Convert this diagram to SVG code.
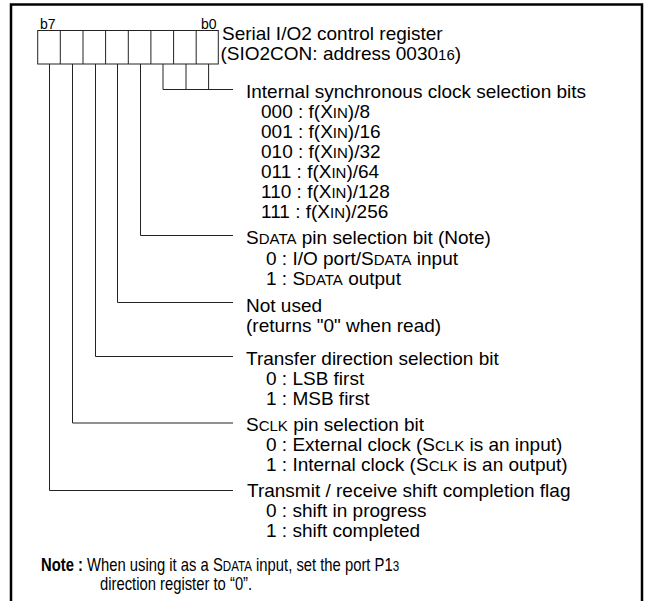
<svg xmlns="http://www.w3.org/2000/svg" width="646" height="601" viewBox="0 0 646 601">
<style>
text{font-family:"Liberation Sans",Arial,sans-serif;font-size:19px;fill:#000}
.sm{font-size:15px}
.bl{font-size:14px}
.b{font-weight:bold}
.nt{font-size:18.5px}
.nts{font-size:14.5px}
.ln{fill:none;stroke:#222;stroke-width:1}
.frame{fill:none;stroke:#000;stroke-width:2.5}
</style>
<rect width="646" height="601" fill="#fff"/>
<path class="frame" d="M11,601 V4.5 H642 V601"/>
<g id="register">
<rect class="ln" x="37.7" y="30.5" width="180.6" height="33.5"/>
<path class="ln" d="M60.3,30.5V64M83,30.5V64M105.6,30.5V64M128.3,30.5V64M150.9,30.5V64M173.6,30.5V64M196.2,30.5V64"/>
<text class="bl" x="40" y="29">b7</text>
<text class="bl" x="201" y="29">b0</text>
<text x="222" y="40">Serial I/O2 control register</text>
<text x="220.5" y="60">(SIO2CON: address 0030<tspan class="sm">16</tspan>)</text>
</g>
<g id="connectors">
<path class="ln" d="M163,64V89.5H233M186,64V89.5M208.6,64V89.5"/>
<path class="ln" d="M140.5,64V235.5H233"/>
<path class="ln" d="M117.5,64V302.5H233"/>
<path class="ln" d="M95.5,64V356.5H233"/>
<path class="ln" d="M72.5,64V423H233"/>
<path class="ln" d="M49.5,64V490.5H233"/>
</g>
<g id="clock-bits">
<text x="246" y="97.5">Internal synchronous clock selection bits</text>
<text x="261" y="118">000 : f(X<tspan class="sm">IN</tspan>)/8</text>
<text x="261" y="138">001 : f(X<tspan class="sm">IN</tspan>)/16</text>
<text x="261" y="157.5">010 : f(X<tspan class="sm">IN</tspan>)/32</text>
<text x="261" y="177.5">011 : f(X<tspan class="sm">IN</tspan>)/64</text>
<text x="261" y="197.5">110 : f(X<tspan class="sm">IN</tspan>)/128</text>
<text x="261" y="217.5">111 : f(X<tspan class="sm">IN</tspan>)/256</text>
</g>
<g id="sdata-bit">
<text x="246" y="244">S<tspan class="sm">DATA</tspan> pin selection bit (Note)</text>
<text x="266" y="265">0 : I/O port/S<tspan class="sm">DATA</tspan> input</text>
<text x="266" y="285">1 : S<tspan class="sm">DATA</tspan> output</text>
</g>
<g id="not-used">
<text x="246" y="311.5">Not used</text>
<text x="246" y="331.5">(returns "0" when read)</text>
</g>
<g id="transfer-direction">
<text x="246" y="365">Transfer direction selection bit</text>
<text x="266" y="385">0 : LSB first</text>
<text x="266" y="405">1 : MSB first</text>
</g>
<g id="sclk-bit">
<text x="246" y="431">S<tspan class="sm">CLK</tspan> pin selection bit</text>
<text x="266" y="451">0 : External clock (S<tspan class="sm">CLK</tspan> is an input)</text>
<text x="266" y="471">1 : Internal clock (S<tspan class="sm">CLK</tspan> is an output)</text>
</g>
<g id="shift-flag">
<text x="247" y="497">Transmit / receive shift completion flag</text>
<text x="266" y="517">0 : shift in progress</text>
<text x="266" y="537">1 : shift completed</text>
</g>
<g id="note">
<text class="nt" transform="translate(41,571) scale(0.8,1)"><tspan class="b">Note :</tspan> When using it as a S<tspan class="nts">DATA</tspan> input, set the port P1<tspan class="nts">3</tspan></text>
<text class="nt" transform="translate(100,590) scale(0.8,1)">direction register to “0”.</text>
</g>
</svg>
